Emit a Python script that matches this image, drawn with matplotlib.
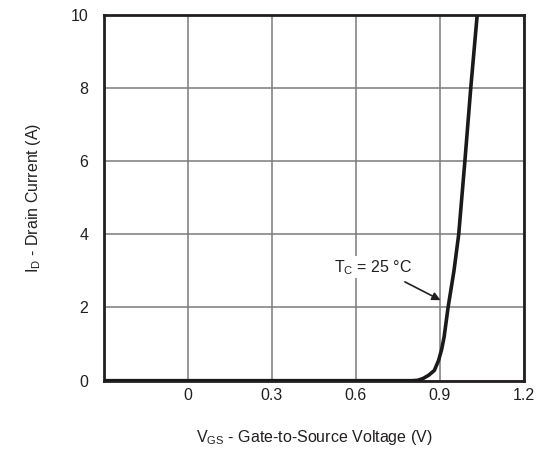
import matplotlib
matplotlib.use("Agg")
import matplotlib.pyplot as plt

plt.rcParams['font.family'] = ['Liberation Sans', 'DejaVu Sans']

# Transfer characteristic, Tc = 25 °C
vgs = [-0.30, 0.22, 0.80, 0.82, 0.84, 0.86, 0.88, 0.895, 0.906, 0.915,
       0.929, 0.95, 0.967, 0.989, 1.01, 1.033]
i_d = [0.0, 0.0, 0.0, 0.01, 0.06, 0.15, 0.28, 0.55, 0.85, 1.2,
       2.0, 3.0, 4.0, 6.0, 8.0, 10.0]

x_ticks = [0, 0.3, 0.6, 0.9, 1.2]
x_tick_labels = ["0", "0.3", "0.6", "0.9", "1.2"]
y_ticks = [0, 2, 4, 6, 8, 10]
y_tick_labels = ["0", "2", "4", "6", "8", "10"]

txt = "#231f20"

fig = plt.figure(figsize=(5.40, 4.57), dpi=100)
ax = fig.add_axes([0.1919, 0.167, 0.7785, 0.8008])

ax.set_xlim(-0.3, 1.2)
ax.set_ylim(0, 10)
ax.set_xticks([-0.3] + x_ticks)
ax.set_xticklabels([""] + x_tick_labels)
ax.set_yticks(y_ticks)
ax.set_yticklabels(y_tick_labels)
ax.tick_params(length=0, labelsize=11.5, colors=txt)
ax.tick_params(axis='x', pad=5)
ax.tick_params(axis='y', pad=11)

ax.grid(True, color="#7a7a7a", linewidth=1.1)
ax.set_axisbelow(True)
for s in ax.spines.values():
    s.set_linewidth(2.0)
    s.set_color("#231f20")

ax.plot(vgs, i_d, color="#1a1a1a", linewidth=2.6, solid_capstyle="butt",
        solid_joinstyle="round", clip_on=True, zorder=3)

ax.annotate("", xy=(0.902, 2.2), xytext=(0.775, 2.7),
            arrowprops=dict(arrowstyle="-|>", color=txt, lw=1.2,
                            mutation_scale=12, shrinkA=0, shrinkB=0))
ax.text(0.662, 3.1, r"T$_\mathregular{C}$ = 25 °C", ha="center", va="center",
        fontsize=11.5, color=txt,
        bbox=dict(facecolor="white", edgecolor="none", pad=1.0))

ax.set_xlabel(r"V$_\mathregular{GS}$ - Gate-to-Source Voltage (V)",
              fontsize=11.5, color=txt, labelpad=18)
ax.set_ylabel(r"I$_\mathregular{D}$ - Drain Current (A)",
              fontsize=11.5, color=txt, labelpad=20)

fig.savefig("out.png", dpi=100, facecolor="white")
